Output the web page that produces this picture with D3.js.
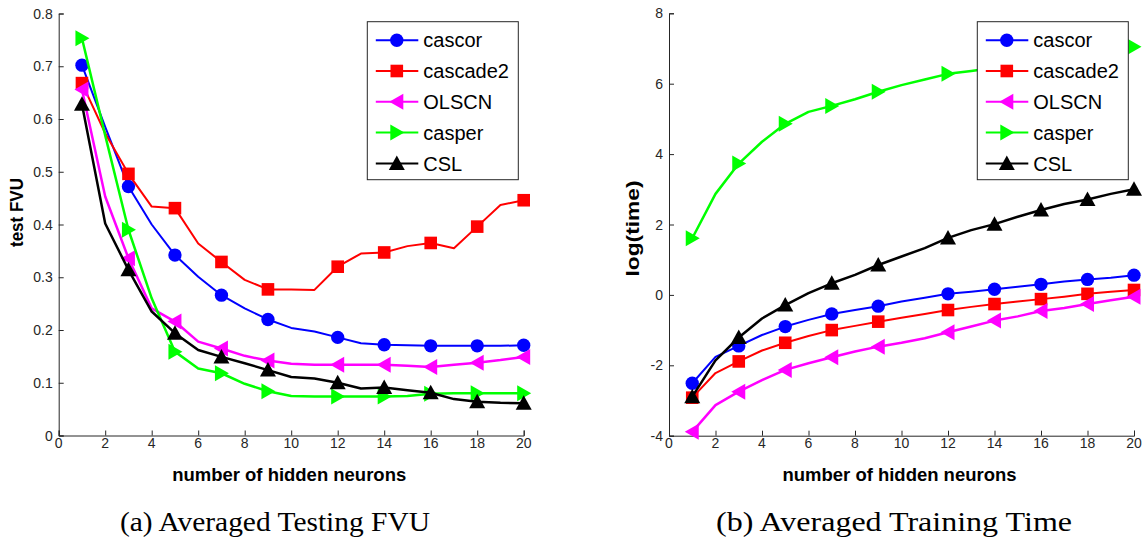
<!DOCTYPE html>
<html>
<head>
<meta charset="utf-8">
<script src="https://cdn.jsdelivr.net/npm/d3@7"></script>
<style>
  html, body { margin: 0; padding: 0; background: #fff; }
  svg { display: block; }
</style>
</head>
<body>
<svg id="fig" width="1143" height="544"></svg>
<script>
// Number of hidden neurons (x values for every series)
const neurons = [1, 2, 3, 4, 5, 6, 7, 8, 9, 10, 11, 12, 13, 14, 15, 16, 17, 18, 19, 20];
// Positions that carry a marker
const markerAt = [1, 3, 5, 7, 9, 12, 14, 16, 18, 20];

const seriesNames = ["cascor", "cascade2", "OLSCN", "casper", "CSL"];
const seriesColors = ["#0000ff", "#ff0000", "#ff00ff", "#00ff00", "#000000"];
const seriesMarkers = ["circle", "square", "triLeft", "triRight", "triUp"];
const seriesWidths = [2, 2, 2.5, 2.5, 2.5];

// (a) averaged testing FVU
const fvuCascor   = [0.702, 0.585, 0.472, 0.400, 0.342, 0.301, 0.266, 0.241, 0.220, 0.204, 0.197, 0.186, 0.175, 0.172, 0.171, 0.170, 0.170, 0.170, 0.170, 0.171];
const fvuCascade2 = [0.668, 0.573, 0.496, 0.434, 0.431, 0.364, 0.329, 0.295, 0.277, 0.277, 0.276, 0.320, 0.345, 0.347, 0.359, 0.365, 0.355, 0.396, 0.437, 0.446];
const fvuOLSCN    = [0.656, 0.453, 0.336, 0.241, 0.216, 0.178, 0.165, 0.151, 0.142, 0.136, 0.134, 0.134, 0.134, 0.134, 0.132, 0.130, 0.134, 0.138, 0.143, 0.149];
const fvuCasper   = [0.753, 0.569, 0.390, 0.260, 0.159, 0.127, 0.118, 0.098, 0.084, 0.075, 0.074, 0.074, 0.074, 0.074, 0.075, 0.079, 0.080, 0.080, 0.080, 0.080];
const fvuCSL      = [0.628, 0.402, 0.314, 0.235, 0.194, 0.162, 0.149, 0.137, 0.124, 0.111, 0.108, 0.100, 0.089, 0.091, 0.086, 0.081, 0.069, 0.064, 0.062, 0.061];

// (b) averaged training time, log scale
const timeCascor   = [-2.51, -1.76, -1.45, -1.14, -0.90, -0.71, -0.54, -0.43, -0.32, -0.19, -0.08, 0.03, 0.09, 0.16, 0.23, 0.30, 0.38, 0.44, 0.49, 0.56];
const timeCascade2 = [-2.92, -2.22, -1.89, -1.58, -1.36, -1.17, -1.00, -0.88, -0.76, -0.65, -0.54, -0.43, -0.34, -0.26, -0.19, -0.12, -0.05, 0.03, 0.09, 0.14];
const timeOLSCN    = [-3.89, -3.13, -2.75, -2.42, -2.13, -1.94, -1.77, -1.61, -1.47, -1.36, -1.23, -1.06, -0.90, -0.73, -0.61, -0.46, -0.37, -0.26, -0.15, -0.05];
const timeCasper   = [1.61, 2.87, 3.73, 4.35, 4.86, 5.20, 5.37, 5.56, 5.77, 5.96, 6.12, 6.28, 6.36, 6.45, 6.55, 6.65, 6.75, 6.85, 6.95, 7.05];
const timeCSL      = [-2.89, -1.86, -1.21, -0.67, -0.29, 0.05, 0.33, 0.57, 0.85, 1.09, 1.33, 1.62, 1.84, 2.01, 2.22, 2.41, 2.58, 2.71, 2.87, 3.00];

// Tick labels
const xTicks = [0, 2, 4, 6, 8, 10, 12, 14, 16, 18, 20];
const fvuTicks = [0, 0.1, 0.2, 0.3, 0.4, 0.5, 0.6, 0.7, 0.8];
const timeTicks = [-4, -2, 0, 2, 4, 6, 8];

const svg = d3.select("#fig");
const tickFont = "'Liberation Sans', Arial, sans-serif";

// Marker path generator (centered at 0,0)
function markerPath(kind) {
  switch (kind) {
    case "circle": return d3.symbol(d3.symbolCircle, 140)();
    case "square": return "M-6.3,-6.3H6.3V6.3H-6.3Z";
    case "triLeft": return "M-7.5,0L6.5,-8L6.5,8Z";
    case "triRight": return "M7.5,0L-6.5,-8L-6.5,8Z";
    case "triUp": return "M0,-8L8,6.5L-8,6.5Z";
  }
}

function drawPanel(cfg) {
  const g = svg.append("g");
  const x = d3.scaleLinear().domain([0, 20]).range([cfg.left, cfg.right]);
  const y = d3.scaleLinear().domain(cfg.yDomain).range([cfg.bottom, cfg.top]);

  // Axes: ticks pointing inward, no box
  const xAxis = d3.axisTop(x).tickValues(xTicks).tickSize(5).tickFormat("");
  const gx = g.append("g").attr("transform", `translate(0,${cfg.bottom})`).call(xAxis);
  const yAxis = d3.axisRight(y).tickValues(cfg.yTicks).tickSize(5).tickFormat("");
  const gy = g.append("g").attr("transform", `translate(${cfg.left},0)`).call(yAxis);
  [gx, gy].forEach(a => {
    a.select(".domain").attr("stroke", "#262626").attr("stroke-width", 1);
    a.selectAll(".tick line").attr("stroke", "#262626").attr("stroke-width", 1);
  });

  // Tick labels
  g.append("g").selectAll("text").data(xTicks).join("text")
    .attr("x", d => x(d)).attr("y", cfg.bottom + 12)
    .attr("text-anchor", "middle")
    .attr("font-family", tickFont).attr("font-size", 14).attr("fill", "#262626")
    .text(d => d);
  g.append("g").selectAll("text").data(cfg.yTicks).join("text")
    .attr("x", cfg.left - 6).attr("y", d => y(d)).attr("dy", "0.36em")
    .attr("text-anchor", "end")
    .attr("font-family", tickFont).attr("font-size", 14).attr("fill", "#262626")
    .text(cfg.yFormat);

  // Axis titles
  g.append("text")
    .attr("x", (cfg.left + cfg.right) / 2 - 2).attr("y", 481)
    .attr("text-anchor", "middle")
    .attr("font-family", tickFont).attr("font-weight", "bold").attr("font-size", 18)
    .attr("textLength", 234).attr("lengthAdjust", "spacingAndGlyphs")
    .text("number of hidden neurons");
  g.append("text")
    .attr("transform", `translate(${cfg.yLabelX},${cfg.yLabelY}) rotate(-90)`)
    .attr("text-anchor", "middle")
    .attr("font-family", tickFont).attr("font-weight", "bold").attr("font-size", cfg.yLabelSize)
    .attr("textLength", cfg.yLabelLen).attr("lengthAdjust", "spacingAndGlyphs")
    .text(cfg.yLabel);

  // Series lines and markers
  const line = d3.line().x((d, i) => x(neurons[i])).y(d => y(d));
  cfg.series.forEach((vals, k) => {
    g.append("path")
      .attr("d", line(vals))
      .attr("fill", "none")
      .attr("stroke", seriesColors[k])
      .attr("stroke-width", seriesWidths[k])
      .attr("stroke-linejoin", "round");
    const pts = neurons.map((n, i) => ({ n, v: vals[i] })).filter(p => markerAt.includes(p.n));
    g.append("g").selectAll("path").data(pts).join("path")
      .attr("transform", p => `translate(${x(p.n)},${y(p.v)})`)
      .attr("d", markerPath(seriesMarkers[k]))
      .attr("fill", seriesColors[k]);
  });

  // Legend
  const lg = g.append("g").attr("transform", `translate(${cfg.legendX},${cfg.legendY})`);
  lg.append("rect").attr("x", 0).attr("y", 0).attr("width", 151).attr("height", 158)
    .attr("fill", "#fff").attr("stroke", "#262626").attr("stroke-width", 1);
  seriesNames.forEach((name, k) => {
    const cy = 18.5 + k * 30.8;
    lg.append("line").attr("x1", 8.5).attr("x2", 51).attr("y1", cy).attr("y2", cy)
      .attr("stroke", seriesColors[k]).attr("stroke-width", 2);
    lg.append("path").attr("transform", `translate(29.5,${cy})`)
      .attr("d", markerPath(seriesMarkers[k])).attr("fill", seriesColors[k]);
    lg.append("text").attr("x", 56).attr("y", cy).attr("dy", "0.36em")
      .attr("font-family", tickFont).attr("font-size", 20).attr("fill", "#000")
      .text(name);
  });

  // Caption
  svg.append("text")
    .attr("x", cfg.captionX).attr("y", 531)
    .attr("text-anchor", "middle")
    .attr("font-family", "'Liberation Serif', 'Times New Roman', serif").attr("font-size", 28)
    .attr("textLength", cfg.captionLen).attr("lengthAdjust", "spacingAndGlyphs")
    .attr("fill", "#000")
    .text(cfg.caption);
}

drawPanel({
  left: 58.7, right: 523.7, top: 13.5, bottom: 435.5,
  yDomain: [0, 0.8], yTicks: fvuTicks, yFormat: d => d === 0 ? "0" : d3.format(".1f")(d),
  yLabel: "test FVU", yLabelX: 23, yLabelY: 212.5, yLabelSize: 19, yLabelLen: 69,
  series: [fvuCascor, fvuCascade2, fvuOLSCN, fvuCasper, fvuCSL],
  legendX: 367.3, legendY: 21.7,
  caption: "(a) Averaged Testing FVU", captionX: 275, captionLen: 310
});

drawPanel({
  left: 669, right: 1134, top: 13.3, bottom: 435.7,
  yDomain: [-4, 8], yTicks: timeTicks, yFormat: d => d,
  yLabel: "log(time)", yLabelX: 639, yLabelY: 228.5, yLabelSize: 19, yLabelLen: 96,
  series: [timeCascor, timeCascade2, timeOLSCN, timeCasper, timeCSL],
  legendX: 977.3, legendY: 21.7,
  caption: "(b) Averaged Training Time", captionX: 894, captionLen: 356
});
</script>
</body>
</html>
